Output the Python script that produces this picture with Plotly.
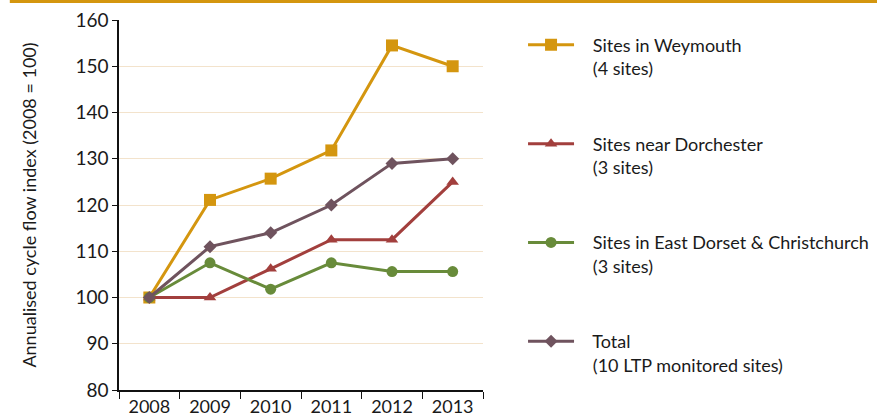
import plotly.graph_objects as go

years = ["2008", "2009", "2010", "2011", "2012", "2013"]

weymouth = [100, 121.1, 125.7, 131.8, 154.5, 150.0]
dorchester = [100, 100.0, 106.2, 112.5, 112.5, 125.0]
east_dorset = [100, 107.5, 101.8, 107.5, 105.6, 105.6]
total = [100, 111.0, 114.0, 120.0, 129.0, 130.0]

series = [
    ("Sites in Weymouth", "(4 sites)", weymouth, "#d4960f", "square", 12),
    ("Sites near Dorchester", "(3 sites)", dorchester, "#a23f3d", "triangle-up", 11),
    ("Sites in East Dorset & Christchurch", "(3 sites)", east_dorset, "#688b3a", "circle", 11),
    ("Total", "(10 LTP monitored sites)", total, "#6f535e", "diamond", 10),
]

FONT = "Lato, 'Open Sans', sans-serif"
TEXT = "#1a1a1a"
PAD = "\u00a0" * 3  # a little air between legend line and label

fig = go.Figure()
for i, (line1, line2, vals, color, symbol, size) in enumerate(series):
    fig.add_trace(
        go.Scatter(
            x=years,
            y=vals,
            name=f"{PAD}{line1}<br>{PAD}{line2}",
            legendgroup=f"g{i}",
            mode="lines+markers",
            line=dict(color=color, width=3),
            marker=dict(color=color, symbol=symbol, size=size),
        )
    )

# gold rule across the top of the figure
fig.add_shape(
    type="line", xref="paper", yref="paper",
    x0=-0.30, x1=2.1, y0=1.05, y1=1.05,
    line=dict(color="#d4960f", width=3),
)

fig.update_layout(
    width=877,
    height=416,
    margin=dict(l=119, r=394, t=20, b=26, autoexpand=False),
    paper_bgcolor="white",
    plot_bgcolor="white",
    font=dict(family=FONT, size=18, color=TEXT),
    showlegend=True,
    legend=dict(
        x=1.11, y=0.982, xanchor="left", yanchor="top",
        traceorder="grouped", tracegroupgap=49, valign="top",
        itemwidth=46, maxheight=1,
        font=dict(family=FONT, size=18, color=TEXT),
        bgcolor="rgba(0,0,0,0)",
    ),
    xaxis=dict(
        type="category",
        range=[-0.5, 5.5],
        tickson="boundaries",
        ticks="outside",
        ticklen=7,
        tickcolor="#111",
        showline=True,
        linecolor="#111",
        linewidth=1.5,
        showgrid=False,
        automargin=False,
        tickfont=dict(size=18),
    ),
    yaxis=dict(
        range=[80, 160],
        dtick=10,
        ticks="outside",
        ticklen=5,
        tickcolor="#111",
        showline=True,
        linecolor="#111",
        linewidth=1.5,
        gridcolor="#f3e3cc",
        gridwidth=1,
        zeroline=False,
        automargin=False,
        tickfont=dict(size=19),
        title=dict(text="Annualised cycle flow index (2008 = 100)", font=dict(size=18), standoff=34),
    ),
)

# the page body has a default 8px margin; drop it so the figure sits at the origin
fig.write_html(
    "out.html",
    config={"displayModeBar": False},
    post_script="document.body.style.margin='0';",
)
